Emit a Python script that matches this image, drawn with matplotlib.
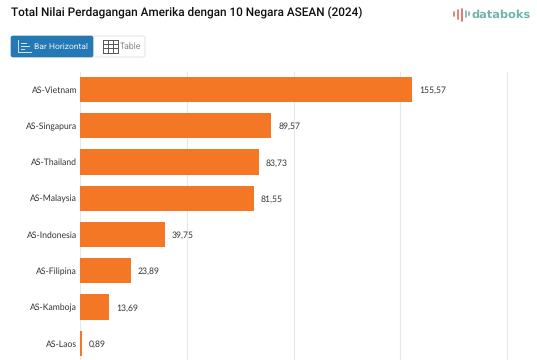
"""Total Nilai Perdagangan Amerika dengan 10 Negara ASEAN (2024)"""

import matplotlib
matplotlib.use('Agg')
import matplotlib.pyplot as plt
from matplotlib.patches import FancyBboxPatch

plt.rcParams['font.family'] = ['Lato', 'DejaVu Sans']
plt.rcParams['text.hinting'] = 'none'

W, H = 537, 360

labels = ['AS-Vietnam', 'AS-Singapura', 'AS-Thailand', 'AS-Malaysia',
          'AS-Indonesia', 'AS-Filipina', 'AS-Kamboja', 'AS-Laos']
values = [155.57, 89.57, 83.73, 81.55, 39.75, 23.89, 13.69, 0.89]
value_labels = ['155,57', '89,57', '83,73', '81,55', '39,75', '23,89', '13,69', '0,89']
grid_ticks = [0, 50, 100, 150, 200]

fig = plt.figure(figsize=(W / 100, H / 100), dpi=100, facecolor='white')

# lapisan piksel untuk judul, tombol dan logo
ui = fig.add_axes([0, 0, 1, 1])
ui.set_xlim(0, W)
ui.set_ylim(H, 0)
ui.axis('off')

ui.text(11, 13, 'Total Nilai Perdagangan Amerika dengan 10 Negara ASEAN (2024)',
        fontsize=8.5, color='#111111', va='center', ha='left', fontweight='medium',
        family='Roboto')

# tombol Table
ui.add_patch(FancyBboxPatch((90, 36), 55, 21, boxstyle='round,pad=0,rounding_size=2',
                            fc='white', ec='#e6e6e6', lw=0.8))
for gx in [103, 108, 113, 118]:
    ui.plot([gx, gx], [39.5, 52.5], color='#555555', lw=0.7)
for gy in [39.5, 43.8, 48.2, 52.5]:
    ui.plot([103, 118], [gy, gy], color='#555555', lw=0.7)
ui.text(120, 46.5, 'Table', fontsize=6.2, color='#8a8a8a', va='center', ha='left', family='Roboto')

# tombol Bar Horizontal
ui.add_patch(FancyBboxPatch((11, 36), 82, 21, boxstyle='round,pad=0,rounding_size=2',
                            fc='#2479b5', ec='#2479b5', lw=0.5))
ui.plot([18, 18, 31], [40, 52, 52], color='#d5e6f2', lw=0.7)
for y0, x1 in [(43, 26), (46, 29), (49, 24)]:
    ui.plot([21, x1], [y0, y0], color='#d5e6f2', lw=0.7)
ui.text(34.5, 46.5, 'Bar Horizontal', fontsize=6.1, color='#e8f1f8', va='center', ha='left',
        family='Roboto')

# logo databoks
for lx, y0, y1, col in [(454, 12, 16, '#e2725b'), (458, 10, 19, '#e2725b'),
                        (462, 9, 21, '#d9655a'), (466, 11, 17, '#6fb5ae'),
                        (469, 12, 15, '#6fb5ae')]:
    ui.plot([lx, lx], [y0, y1], color=col, lw=1.2, solid_capstyle='round')
ui.text(471, 14.5, 'databoks', fontsize=8.2, color='#6fb5ae', va='center', ha='left',
        fontweight='bold', family='DejaVu Sans')

# area chart: x=0 di piksel 80, x=200 di piksel 507, sedikit lebih lebar agar garis 200 utuh
ax = fig.add_axes([80 / W, 0, (512 - 80) / W, (H - 72) / H])
ax.patch.set_alpha(0)
ax.set_xlim(0, 200 * 432 / 427)
ax.set_ylim(7.46, -0.483)
ax.set_axisbelow(True)
ax.grid(axis='x', color='#e7e7e7', lw=0.8)
ax.set_xticks(grid_ticks)
ax.tick_params(axis='x', length=0, labelbottom=False)
ax.tick_params(axis='y', length=0, pad=2, labelsize=6.2, labelcolor='#333333')
for s in ax.spines.values():
    s.set_visible(False)

pos = list(range(len(labels)))
ax.barh(pos, values, height=0.70, color='#f47726')
ax.set_yticks(pos)
ax.set_yticklabels(labels, va='center_baseline')
for p, v, t in zip(pos, values, value_labels):
    ax.annotate(t, (v, p), xytext=(5, 0), textcoords='offset points',
                va='center_baseline', ha='left', fontsize=6.2, color='#333333')

fig.savefig('out.png', dpi=100)
